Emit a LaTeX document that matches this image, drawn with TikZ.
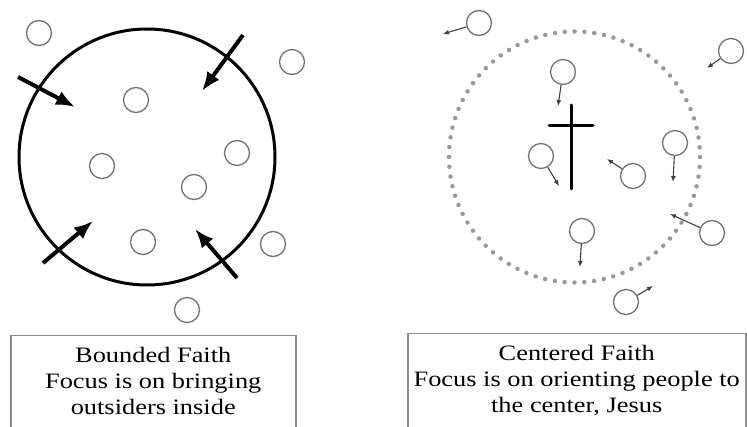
\documentclass[tikz,border=0pt]{standalone}
\usepackage{fontspec}
\setmainfont{Liberation Serif}[FakeStretch=1.2]
\usetikzlibrary{arrows.meta, positioning}

\begin{document}
\begin{tikzpicture}[x=1pt, y=-1pt,
		>={Latex[length=19pt,width=15pt]},   % big arrow tips
		font=\fontsize{22}{25.8}\selectfont,
		person/.style={circle, draw=black!55, line width=1.3pt, minimum size=25pt, inner sep=0pt},
		ring/.style={line width=3pt, line cap=round},
		push/.style={->, line width=4pt},
		turn/.style={-{Latex[length=6pt,width=5pt]}, line width=1.1pt, draw=black!75},
		dots/.style={draw=black!40, line width=4.5pt, line cap=round, dash pattern=on 0pt off 9.86pt},
		panel/.style={draw=black!45, line width=1.5pt, minimum height=120pt, anchor=north west},
		caption/.style={align=center, inner sep=0pt}]
	% page size
	\useasboundingbox (0,0) rectangle (747,427);
	\clip (0,0) rectangle (747,427);
	%% left: bounded set
	\node[circle, draw, ring, minimum size=256pt] (bound) at (147,157) {};
	\foreach \n/\x/\y in {a/39/33, b/292/62, c/136/100, d/102/166, e/237/153, f/194/187, g/143/242, h/273/244, i/187/310}
		\node[person] (l\n) at (\x,\y) {};
	% arrows pushing in
	\coordinate (s1) at (18,77);   \coordinate (e1) at (75,107);
	\coordinate (s2) at (243,35);  \coordinate (e2) at (202,91);
	\coordinate (s3) at (43,263);  \coordinate (e3) at (93,221);
	\coordinate (s4) at (237,278); \coordinate (e4) at (195,229);
	\foreach \k in {1,...,4} \draw[push] (s\k) -- (e\k);
	%% right: centered set
	\draw[dots] (574.5,157) circle (125.5);
	% the cross
	\draw[ring] (571,105) -- (571,189);
	\draw[ring] (549,126) -- (593,126);
	\foreach \n/\x/\y/\tx/\ty in {1/479/23/443/34, 2/731/51/707/68, 3/563/72/558/106, 4/541/156/559/186, 5/633/176/607/159, 6/675/143/673/182, 7/712/233/670/214, 8/582/231/580/267, 9/626/302/653/286}{
		\node[person] (r\n) at (\x,\y) {};
		\coordinate (t\n) at (\tx,\ty);
		\draw[turn] (r\n) -- (t\n);
	}
	%% captions
	\node[panel, minimum width=285pt] (leftbox) at (10,335) {};
	\node[caption, below=12pt of leftbox.north] (lefttext) {Bounded Faith\\Focus is on bringing\\outsiders inside};
	\node[panel, minimum width=338pt] (rightbox) at (407,333) {};
	\node[caption, below=12pt of rightbox.north] (righttext) {Centered Faith\\Focus is on orienting people to\\the center, Jesus};
\end{tikzpicture}
\end{document}
